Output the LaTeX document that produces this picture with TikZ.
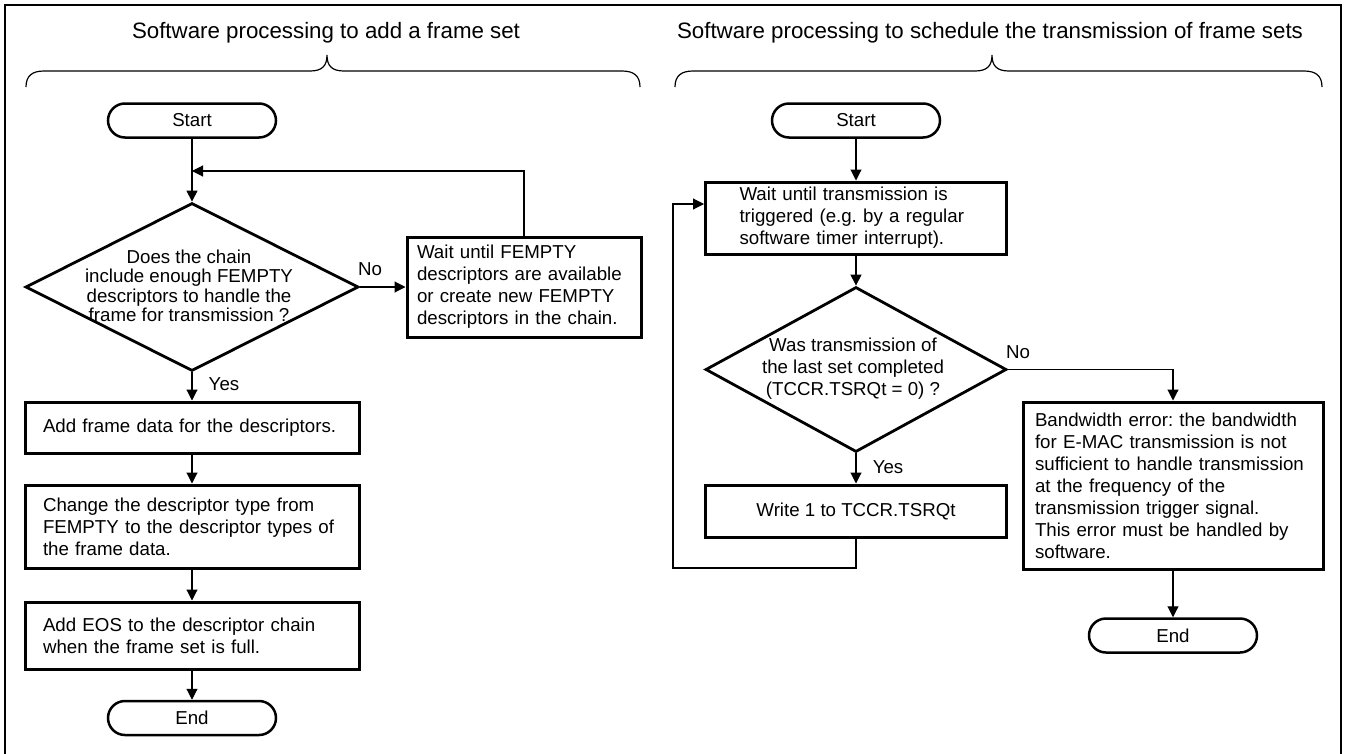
\documentclass[tikz,border=0pt]{standalone}
\usepackage{fontspec}
\setmainfont{Liberation Sans}
\usetikzlibrary{arrows.meta,shapes.geometric}
\frenchspacing
\begin{document}
\begin{tikzpicture}[x=1pt,y=-1pt,
  every node/.style={font=\fontsize{18.7}{22}\selectfont, inner sep=0pt},
  box/.style={draw, line width=3pt, rectangle, align=left, inner ysep=0pt},
  pill/.style={draw, line width=2.5pt, rounded corners=17pt, minimum width=168pt, minimum height=34pt},
  dia/.style={draw, line width=2.8pt, diamond, inner sep=0pt},
  arr/.style={line width=1.1pt, -{Triangle[length=11pt,width=11pt]}},
  lbl/.style={font=\fontsize{18.7}{22}\selectfont},
  ttl/.style={font=\fontsize{22.3}{26}\selectfont, anchor=base},
  brace/.style={line width=1.2pt}
]
\useasboundingbox (0,0) rectangle (1345,753);
\fill[white] (0,0) rectangle (1345,753);
\draw[line width=2pt] (5,5) rectangle (1341,762);

% titles and braces
\node[ttl] (t1) at (326,38) {Software processing to add a frame set};
\node[ttl] (t2) at (990,38) {Software processing to schedule the transmission of frame sets};
\draw[brace] (26,87) .. controls (26,76) and (32,71) .. (44,71) -- (310,71)
  .. controls (322,71) and (327,66) .. (327,55)
  .. controls (327,66) and (332,71) .. (344,71) -- (622,71)
  .. controls (634,71) and (640,76) .. (640,87);
\draw[brace] (675,87) .. controls (675,76) and (681,71) .. (693,71) -- (975,71)
  .. controls (987,71) and (992,66) .. (992,55)
  .. controls (992,66) and (997,71) .. (1009,71) -- (1304,71)
  .. controls (1316,71) and (1322,76) .. (1322,87);

% left flowchart
\node[pill] (s1) at (192,120.5) {Start};
\node[dia, minimum width=333pt, minimum height=168pt] (d1) at (192,287) {};
\node[align=center, font=\fontsize{18.7}{19.5}\selectfont] (d1t) at (189,286)
  {Does the chain\\include enough FEMPTY\\descriptors to handle the\\frame for transmission ?};
\node[box, text width=214pt, inner xsep=10pt, minimum height=100pt] (w1) at (524,287)
  {Wait until FEMPTY\\descriptors are available\\or create new FEMPTY\\descriptors in the chain.};
\node[box, text width=298pt, inner xsep=18pt, minimum height=51pt] (b1) at (192,427.5)
  {Add frame data for the descriptors.};
\node[box, text width=298pt, inner xsep=18pt, minimum height=83pt] (b2) at (192,526.5)
  {Change the descriptor type from\\FEMPTY to the descriptor types of\\the frame data.};
\node[box, text width=298pt, inner xsep=18pt, minimum height=67pt] (b3) at (192,635.5)
  {Add EOS to the descriptor chain\\when the frame set is full.};
\node[pill] (e1) at (192,718) {End};

\coordinate (j1) at (192,171);
\draw[arr] (s1.south) -- (d1.north);
\draw[arr] (w1.north) |- (j1);
\draw[arr] (d1.east) -- (w1.west);
\node[lbl] (no1) at (370,269) {No};
\draw[arr] (d1.south) -- (b1.north);
\node[lbl] (yes1) at (224,384) {Yes};
\draw[arr] (b1.south) -- (b2.north);
\draw[arr] (b2.south) -- (b3.north);
\draw[arr] (b3.south) -- (e1.north);

% right flowchart
\node[pill] (s2) at (856,120.5) {Start};
\node[box, text width=233pt, inner xsep=34pt, minimum height=72pt] (w2) at (856,218)
  {Wait until transmission is\\triggered (e.g. by a regular\\software timer interrupt).};
\node[dia, minimum width=301pt, minimum height=165pt] (d2) at (856,369.5) {};
\node[align=center] (d2t) at (853,369)
  {Was transmission of\\the last set completed\\(TCCR.TSRQt = 0) ?};
\node[box, align=center, minimum width=301pt, minimum height=52pt] (wr) at (856,511)
  {Write 1 to TCCR.TSRQt};
\node[box, text width=276pt, inner xsep=12pt, minimum height=167pt] (bw) at (1173,485.5)
  {Bandwidth error: the bandwidth\\for E-MAC transmission is not\\sufficient to handle transmission\\at the frequency of the\\transmission trigger signal.\\This error must be handled by\\software.};
\node[pill] (e2) at (1173,635.5) {End};

\draw[arr] (s2.south) -- (w2.north);
\draw[arr] (w2.south) -- (d2.north);
\draw[arr] (d2.south) -- (wr.north);
\node[lbl] (yes2) at (888,467) {Yes};
\draw[arr] (d2.east) -| (bw.north);
\node[lbl] (no2) at (1018,352) {No};
\coordinate (l1) at (673,568);
\coordinate (l2) at (673,204);
\draw[arr] (wr.south) |- (l1) -- (l2) -- (w2.west |- l2);
\draw[arr] (bw.south) -- (e2.north);
\end{tikzpicture}
\end{document}
